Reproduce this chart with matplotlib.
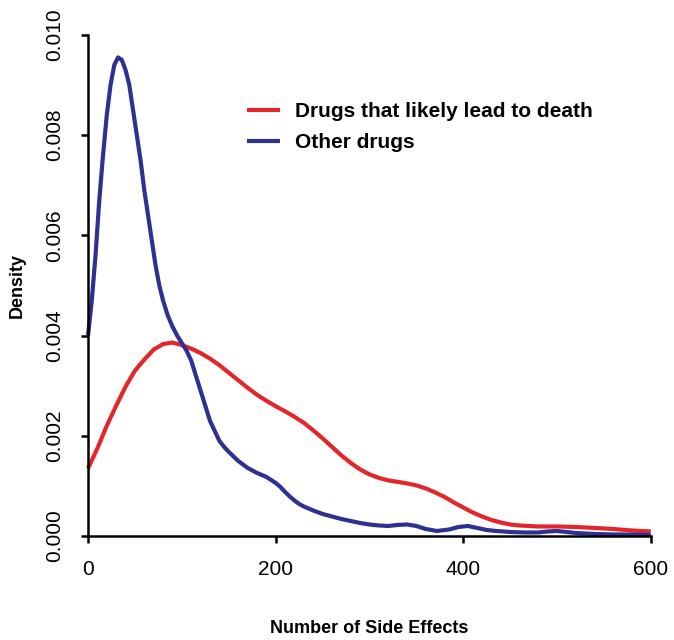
import matplotlib
matplotlib.use("Agg")
import matplotlib.pyplot as plt

plt.rcParams['font.family'] = ['Liberation Sans', 'DejaVu Sans']

# density estimates
death_x = [0, 10, 20, 30, 40, 50, 60, 70, 80, 90, 100, 110, 120, 130, 140,
           150, 160, 170, 180, 190, 200, 210, 220, 230, 240, 250, 260, 270,
           280, 290, 300, 310, 320, 330, 340, 350, 360, 370, 380, 390, 400,
           410, 420, 430, 440, 450, 460, 470, 480, 500, 520, 540, 560, 580, 600]
death_y = [0.00135, 0.00175, 0.0022, 0.0026, 0.00298, 0.0033, 0.00352,
           0.00372, 0.00383, 0.00386, 0.00381, 0.00374, 0.00365, 0.00354,
           0.00341, 0.00326, 0.00311, 0.00296, 0.00282, 0.0027, 0.00259,
           0.00249, 0.00238, 0.00226, 0.00211, 0.00195, 0.00178, 0.00161,
           0.00146, 0.00133, 0.00123, 0.00116, 0.00111, 0.00108, 0.00105,
           0.00101, 0.00095, 0.00087, 0.00078, 0.00067, 0.00057, 0.00047,
           0.00039, 0.00032, 0.00027, 0.00023, 0.00021, 0.0002, 0.00019,
           0.00019, 0.00018, 0.00016, 0.00014, 0.00011, 0.00009]

other_x = [0, 4, 8, 12, 16, 20, 24, 28, 32, 36, 40, 44, 48, 52, 56, 60, 64,
           68, 72, 76, 80, 85, 90, 95, 100, 105, 110, 115, 120, 125, 130, 135,
           140, 145, 150, 160, 170, 180, 190, 200, 205, 210, 215, 220, 225,
           230, 240, 250, 260, 270, 280, 290, 300, 310, 320, 330, 340, 350,
           360, 372, 385, 395, 405, 415, 425, 435, 450, 465, 480, 490, 500,
           510, 520, 540, 560, 580, 600]
other_y = [0.0040, 0.0047, 0.0056, 0.0067, 0.0076, 0.0084, 0.0090, 0.0094,
           0.00955, 0.0095, 0.0093, 0.0090, 0.0085, 0.0080, 0.0075, 0.0069,
           0.0064, 0.0059, 0.0054, 0.0050, 0.0047, 0.0044, 0.00418, 0.0040,
           0.00385, 0.0037, 0.0035, 0.0032, 0.0029, 0.0026, 0.0023, 0.0021,
           0.0019, 0.00178, 0.00168, 0.0015, 0.00136, 0.00126, 0.00118,
           0.00106, 0.00098, 0.00088, 0.00079, 0.00071, 0.00064, 0.00059,
           0.00051, 0.00044, 0.00039, 0.00034, 0.0003, 0.00026, 0.00023,
           0.00021, 0.0002, 0.00022, 0.00023, 0.0002, 0.00014, 0.0001,
           0.00013, 0.00018, 0.0002, 0.00016, 0.00012, 0.0001, 0.00008,
           0.00007, 0.00007, 0.00009, 0.0001, 0.00008, 0.00006, 0.00004,
           0.00003, 0.00003, 0.00002]

labels = ["Drugs that likely lead to death", "Other drugs"]
colors = ["#e4262b", "#2e3192"]

fig = plt.figure(figsize=(6.74, 6.40), dpi=100)
ax = fig.add_axes([0.1306, 0.1625, 0.835, 0.783])

ax.plot(death_x, death_y, color=colors[0], lw=3, label=labels[0],
        solid_joinstyle='round', solid_capstyle='butt', clip_on=False)
ax.plot(other_x, other_y, color=colors[1], lw=3, label=labels[1],
        solid_joinstyle='round', solid_capstyle='butt', clip_on=False)

ax.set_xlim(0, 600)
ax.set_ylim(0, 0.010)
ax.set_xticks([0, 200, 400, 600])
ax.set_yticks([0, 0.002, 0.004, 0.006, 0.008, 0.010])
ax.set_yticklabels(["0.000", "0.002", "0.004", "0.006", "0.008", "0.010"])

for s in ['top', 'right']:
    ax.spines[s].set_visible(False)
for s in ['left', 'bottom']:
    ax.spines[s].set_linewidth(1.8)

ax.tick_params(length=5, width=1.8, labelsize=15, pad=12)
ax.tick_params(axis='y', labelrotation=90)
for t in ax.get_yticklabels():
    t.set_va('center')

ax.set_xlabel("Number of Side Effects", fontsize=13, fontweight='bold',
              labelpad=30)
ax.set_ylabel("Density", fontsize=13, fontweight='bold', labelpad=14)

ax.legend(loc='upper left', bbox_to_anchor=(0.282, 0.866), frameon=False,
          prop={'size': 15, 'weight': 'bold'}, handlelength=1.6,
          handletextpad=0.72, labelspacing=0.58, borderpad=0,
          borderaxespad=0)

fig.savefig("out.png", dpi=100)
